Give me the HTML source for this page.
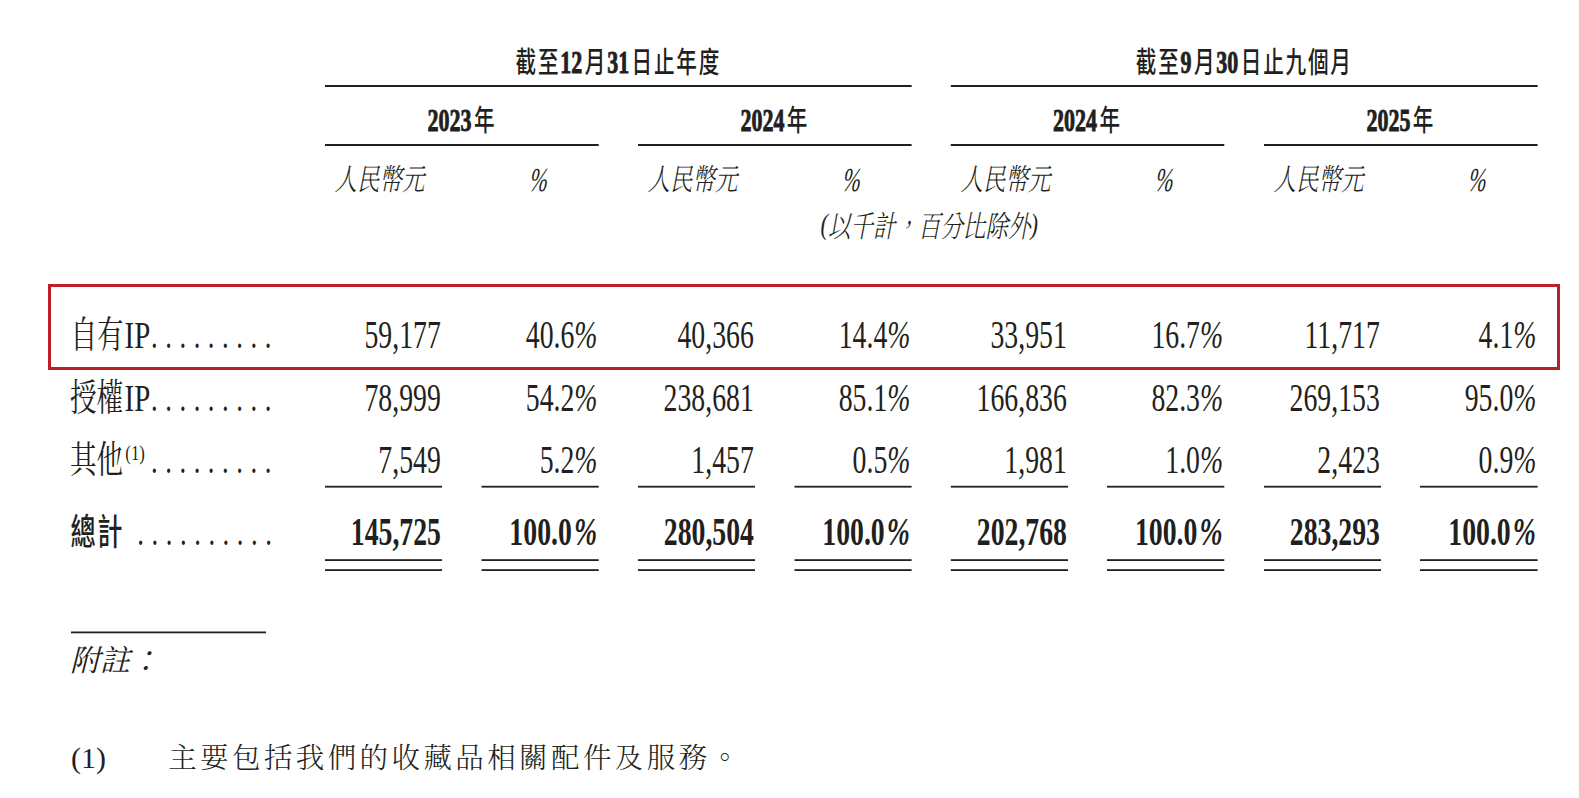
<!DOCTYPE html>
<html lang="zh-Hant">
<head>
<meta charset="utf-8">
<title>收益明細</title>
<style>
html,body{margin:0;padding:0;background:#fff;}
body{width:1579px;height:798px;overflow:hidden;position:relative;}
svg{position:absolute;left:0;top:0;}
.hc{font-family:"Noto Sans CJK TC","Noto Sans CJK SC",sans-serif;font-weight:500;font-size:29px;letter-spacing:2.5px;}
.hd{font-family:"Liberation Serif","Noto Serif CJK TC",serif;font-weight:700;font-size:31px;stroke:#231f20;stroke-width:0.9px;}
.unit{font-family:"Liberation Serif","Noto Serif CJK TC","Noto Serif CJK SC",serif;font-style:italic;font-size:30px;font-weight:300;}
.lab{font-family:"Liberation Serif","Noto Serif CJK TC","Noto Serif CJK SC",serif;font-size:37px;}
.labl{font-family:"Liberation Serif";font-size:37px;}
.labl .sup{font-size:21px;}
.pi{font-size:33.5px;}
.pc{font-style:italic;}
.fc{font-weight:300;font-size:28.5px;letter-spacing:3.4px;}
.tot{font-family:"Noto Sans CJK TC","Noto Sans CJK SC",sans-serif;font-weight:500;font-size:36px;letter-spacing:2.1px;}
.num{font-family:"Liberation Serif","Noto Serif CJK TC",serif;font-size:39px;}
.bnum{font-weight:700;}
.fn{font-family:"Liberation Serif","Noto Serif CJK TC","Noto Serif CJK SC",serif;font-size:30px;}
.fi{font-style:italic;}
</style>
</head>
<body>
<svg width="1579" height="798" viewBox="0 0 1579 798">
<g fill="#231f20">
<rect x="325" y="85" width="586.6" height="2"/>
<rect x="950.8" y="85" width="586.8" height="2"/>
<rect x="325" y="144" width="273.7" height="2"/>
<rect x="638" y="144" width="273.6" height="2"/>
<rect x="950.8" y="144" width="273.5" height="2"/>
<rect x="1264" y="144" width="273.6" height="2"/>
<rect x="325" y="485.8" width="117" height="1.8"/>
<rect x="325" y="559.2" width="117" height="1.8"/>
<rect x="325" y="569.2" width="117" height="1.8"/>
<rect x="481.5" y="485.8" width="117.2" height="1.8"/>
<rect x="481.5" y="559.2" width="117.2" height="1.8"/>
<rect x="481.5" y="569.2" width="117.2" height="1.8"/>
<rect x="638" y="485.8" width="117" height="1.8"/>
<rect x="638" y="559.2" width="117" height="1.8"/>
<rect x="638" y="569.2" width="117" height="1.8"/>
<rect x="794.5" y="485.8" width="117.1" height="1.8"/>
<rect x="794.5" y="559.2" width="117.1" height="1.8"/>
<rect x="794.5" y="569.2" width="117.1" height="1.8"/>
<rect x="950.8" y="485.8" width="117.2" height="1.8"/>
<rect x="950.8" y="559.2" width="117.2" height="1.8"/>
<rect x="950.8" y="569.2" width="117.2" height="1.8"/>
<rect x="1107" y="485.8" width="117.3" height="1.8"/>
<rect x="1107" y="559.2" width="117.3" height="1.8"/>
<rect x="1107" y="569.2" width="117.3" height="1.8"/>
<rect x="1264" y="485.8" width="117" height="1.8"/>
<rect x="1264" y="559.2" width="117" height="1.8"/>
<rect x="1264" y="569.2" width="117" height="1.8"/>
<rect x="1420" y="485.8" width="117.6" height="1.8"/>
<rect x="1420" y="559.2" width="117.6" height="1.8"/>
<rect x="1420" y="569.2" width="117.6" height="1.8"/>
<rect x="71" y="631.5" width="195" height="1.8"/>
</g>
<rect x="49.5" y="285.5" width="1509" height="83" fill="none" stroke="#bb2026" stroke-width="3"/>
<g fill="#231f20">
<text transform="translate(618.3,73) scale(0.71,1)" text-anchor="middle"><tspan class="hc">截至</tspan><tspan class="hd">12</tspan><tspan class="hc" dx="3.5">月</tspan><tspan class="hd">31</tspan><tspan class="hc" dx="3.5">日止年度</tspan></text>
<text transform="translate(1244.2,73) scale(0.71,1)" text-anchor="middle"><tspan class="hc">截至</tspan><tspan class="hd">9</tspan><tspan class="hc" dx="3.5">月</tspan><tspan class="hd">30</tspan><tspan class="hc" dx="3.5">日止九個月</tspan></text>
<text transform="translate(461.9,131) scale(0.71,1)" text-anchor="middle"><tspan class="hd">2023</tspan><tspan class="hc" dx="3.5">年</tspan></text>
<text transform="translate(774.8,131) scale(0.71,1)" text-anchor="middle"><tspan class="hd">2024</tspan><tspan class="hc" dx="3.5">年</tspan></text>
<text transform="translate(1087.5,131) scale(0.71,1)" text-anchor="middle"><tspan class="hd">2024</tspan><tspan class="hc" dx="3.5">年</tspan></text>
<text transform="translate(1400.8,131) scale(0.71,1)" text-anchor="middle"><tspan class="hd">2025</tspan><tspan class="hc" dx="3.5">年</tspan></text>
</g>
<g fill="#231f20" class="unit">
<text transform="translate(379.5,190) scale(0.75,1)" text-anchor="middle">人民幣元</text>
<text transform="translate(538.3000000000001,190.5) scale(0.64,1) skewX(-10)" text-anchor="middle" class="pi">%</text>
<text transform="translate(692.5,190) scale(0.75,1)" text-anchor="middle">人民幣元</text>
<text transform="translate(851.2,190.5) scale(0.64,1) skewX(-10)" text-anchor="middle" class="pi">%</text>
<text transform="translate(1005.4,190) scale(0.75,1)" text-anchor="middle">人民幣元</text>
<text transform="translate(1163.9,190.5) scale(0.64,1) skewX(-10)" text-anchor="middle" class="pi">%</text>
<text transform="translate(1318.5,190) scale(0.75,1)" text-anchor="middle">人民幣元</text>
<text transform="translate(1477.0,190.5) scale(0.64,1) skewX(-10)" text-anchor="middle" class="pi">%</text>
<text transform="translate(929.3,237) scale(0.75,1)" text-anchor="middle"><tspan dy="-3">(</tspan><tspan dy="3">以千計，百分比除外</tspan><tspan dy="-3">)</tspan></text>
</g>
<g fill="#231f20" class="lab">
<text transform="translate(70.5,348.3) scale(0.72,1)">自有</text>
<text transform="translate(70,410.6) scale(0.72,1)">授權</text>
<text transform="translate(70,472.7) scale(0.72,1)">其他</text>
</g>
<g fill="#231f20" class="labl">
<text transform="translate(124.6,348.3) scale(0.78,1)">IP</text>
<text transform="translate(124.6,410.6) scale(0.78,1)">IP</text>
<text transform="translate(125.3,459.6) scale(0.8,1)" class="sup">(1)</text>
<text transform="translate(151,348.3) scale(0.72,1)" style="letter-spacing:10.5px">.........</text>
<text transform="translate(151,410.6) scale(0.72,1)" style="letter-spacing:10.5px">.........</text>
<text transform="translate(151,472.7) scale(0.72,1)" style="letter-spacing:10.5px">.........</text>
<text transform="translate(137.3,545) scale(0.72,1)" style="letter-spacing:10.5px">..........</text>
</g>
<g fill="#231f20" class="tot">
<text transform="translate(70.5,545) scale(0.7,1)">總計</text>
</g>
<g fill="#231f20" class="num" text-anchor="end">
<text transform="translate(440.8,348.3) scale(0.712,1)">59,177</text>
<text transform="translate(597.5,348.3) scale(0.712,1)">40.6<tspan class="pc">%</tspan></text>
<text transform="translate(753.8,348.3) scale(0.712,1)">40,366</text>
<text transform="translate(910.4,348.3) scale(0.712,1)">14.4<tspan class="pc">%</tspan></text>
<text transform="translate(1066.8,348.3) scale(0.712,1)">33,951</text>
<text transform="translate(1223.1,348.3) scale(0.712,1)">16.7<tspan class="pc">%</tspan></text>
<text transform="translate(1379.8,348.3) scale(0.712,1)">11,717</text>
<text transform="translate(1536.4,348.3) scale(0.712,1)">4.1<tspan class="pc">%</tspan></text>
<text transform="translate(440.8,410.6) scale(0.712,1)">78,999</text>
<text transform="translate(597.5,410.6) scale(0.712,1)">54.2<tspan class="pc">%</tspan></text>
<text transform="translate(753.8,410.6) scale(0.712,1)">238,681</text>
<text transform="translate(910.4,410.6) scale(0.712,1)">85.1<tspan class="pc">%</tspan></text>
<text transform="translate(1066.8,410.6) scale(0.712,1)">166,836</text>
<text transform="translate(1223.1,410.6) scale(0.712,1)">82.3<tspan class="pc">%</tspan></text>
<text transform="translate(1379.8,410.6) scale(0.712,1)">269,153</text>
<text transform="translate(1536.4,410.6) scale(0.712,1)">95.0<tspan class="pc">%</tspan></text>
<text transform="translate(440.8,472.7) scale(0.712,1)">7,549</text>
<text transform="translate(597.5,472.7) scale(0.712,1)">5.2<tspan class="pc">%</tspan></text>
<text transform="translate(753.8,472.7) scale(0.712,1)">1,457</text>
<text transform="translate(910.4,472.7) scale(0.712,1)">0.5<tspan class="pc">%</tspan></text>
<text transform="translate(1066.8,472.7) scale(0.712,1)">1,981</text>
<text transform="translate(1223.1,472.7) scale(0.712,1)">1.0<tspan class="pc">%</tspan></text>
<text transform="translate(1379.8,472.7) scale(0.712,1)">2,423</text>
<text transform="translate(1536.4,472.7) scale(0.712,1)">0.9<tspan class="pc">%</tspan></text>
</g>
<g fill="#231f20" class="num bnum" text-anchor="end">
<text transform="translate(441,545) scale(0.712,1)">145,725</text>
<text transform="translate(597.1,545) scale(0.712,1)">100.0<tspan class="pc" dx="3">%</tspan></text>
<text transform="translate(754,545) scale(0.712,1)">280,504</text>
<text transform="translate(910.0,545) scale(0.712,1)">100.0<tspan class="pc" dx="3">%</tspan></text>
<text transform="translate(1067,545) scale(0.712,1)">202,768</text>
<text transform="translate(1222.7,545) scale(0.712,1)">100.0<tspan class="pc" dx="3">%</tspan></text>
<text transform="translate(1380,545) scale(0.712,1)">283,293</text>
<text transform="translate(1536.0,545) scale(0.712,1)">100.0<tspan class="pc" dx="3">%</tspan></text>
</g>
<g fill="#231f20" class="fn">
<text x="70" y="671"><tspan class="fi">附註：</tspan></text>
<text x="71" y="768">(1)</text>
<text x="168.2" y="768" class="fc">主要包括我們的收藏品相關配件及服務。</text>
</g>
</svg>
</body>
</html>
